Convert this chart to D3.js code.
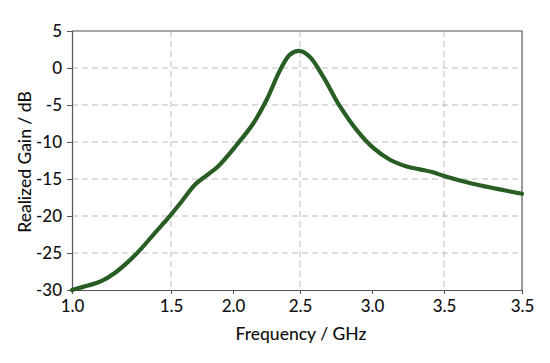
<!DOCTYPE html>
<html>
<head>
<meta charset="utf-8">
<script src="https://cdn.jsdelivr.net/npm/d3@7"></script>
<style>
  body { margin: 0; background: #fff; }
  svg { display: block; font-family: Lato, "Open Sans", sans-serif; }
</style>
</head>
<body>
<div id="chart"></div>
<script>
// frequency (GHz) and realized gain (dB)
const freq = [1.0, 1.081, 1.148, 1.216, 1.283, 1.35, 1.418, 1.485, 1.583, 1.691, 1.772, 1.879,
  2.027, 2.151, 2.251, 2.351, 2.425, 2.5, 2.569, 2.662, 2.778, 2.894, 3.009, 3.125, 3.241,
  3.333, 3.424, 3.5, 3.677, 3.833, 4.0];
const gain = [-30, -29.4, -28.8, -27.7, -26.2, -24.4, -22.3, -20.3, -18.1, -15.8, -14.7, -13.3,
  -10.4, -7.5, -4.3, -0.3, 1.8, 2.3, 1.5, -1.2, -5.2, -8.4, -10.8, -12.4, -13.3,
  -13.7, -14.1, -14.6, -15.6, -16.3, -17.0];

// x axis as printed (the last label repeats 3.5)
const xTickValues = [1.0, 1.5, 2.0, 2.5, 3.0, 3.5, 4.0];
const xTickLabels = ['1.0', '1.5', '2.0', '2.5', '3.0', '3.5', '3.5'];
const xGridValues = [1.5, 2.5, 3.5];
const yTickValues = [5, 0, -5, -10, -15, -20, -25, -30];
const yGridValues = [0, -5, -10, -15, -20, -25];

const width = 550;
const height = 363;
const plot = { left: 72, right: 522, top: 31, bottom: 290 };
const font = 'Lato, "Open Sans", sans-serif';

const svg = d3.select('#chart')
  .append('svg')
  .attr('width', width)
  .attr('height', height);

// the printed axis is not evenly spaced, so use a piecewise scale
const x = d3.scaleLinear()
  .domain(xTickValues)
  .range([plot.left, 171, 233, 300, 372, 444, plot.right]);

const y = d3.scaleLinear()
  .domain([-30, 5])
  .range([plot.bottom, plot.top]);

// grid
svg.append('g')
  .selectAll('line')
  .data(yGridValues)
  .enter().append('line')
  .attr('x1', plot.left)
  .attr('x2', plot.right)
  .attr('y1', d => y(d))
  .attr('y2', d => y(d))
  .attr('stroke', '#bbb')
  .attr('stroke-width', 1)
  .attr('stroke-dasharray', '6,4');

svg.append('g')
  .selectAll('line')
  .data(xGridValues)
  .enter().append('line')
  .attr('x1', d => x(d))
  .attr('x2', d => x(d))
  .attr('y1', plot.top)
  .attr('y2', plot.bottom)
  .attr('stroke', '#bbb')
  .attr('stroke-width', 1)
  .attr('stroke-dasharray', '6,4');

// frame top / right
svg.append('path')
  .attr('d', `M${plot.left},${plot.top}H${plot.right}V${plot.bottom}`)
  .attr('fill', 'none')
  .attr('stroke', '#555')
  .attr('stroke-width', 1.2);

// axes
const xAxis = svg.append('g')
  .attr('transform', 'translate(0,' + plot.bottom + ')')
  .call(d3.axisBottom(x)
    .tickValues(xTickValues)
    .tickFormat((d, i) => xTickLabels[i])
    .tickSizeOuter(0)
    .tickSize(4)
    .tickPadding(6));

const yAxis = svg.append('g')
  .attr('transform', 'translate(' + plot.left + ',0)')
  .call(d3.axisLeft(y)
    .tickValues(yTickValues)
    .tickFormat(d => String(d))   // plain hyphen, like the original
    .tickSizeOuter(0)
    .tickSize(5)
    .tickPadding(5));

[xAxis, yAxis].forEach(a => {
  a.select('.domain').attr('stroke', '#555').attr('stroke-width', 1.2);
  a.selectAll('.tick line').attr('stroke', '#555');
  a.selectAll('.tick text')
    .attr('fill', '#111')
    .style('font-size', '17px')
    .style('font-weight', 500)
    .style('font-family', font);
});

// curve
const line = d3.line()
  .x((d, i) => x(freq[i]))
  .y(d => y(d))
  .curve(d3.curveCatmullRom.alpha(0.5));

svg.append('path')
  .datum(gain)
  .attr('fill', 'none')
  .attr('stroke', '#285e24')
  .attr('stroke-width', 4.2)
  .attr('stroke-linejoin', 'round')
  .attr('stroke-linecap', 'round')
  .attr('d', line);

// axis titles
svg.append('text')
  .attr('x', 301)
  .attr('y', 340)
  .attr('text-anchor', 'middle')
  .attr('fill', '#111')
  .style('font-size', '17.5px')
  .style('font-weight', 500)
  .text('Frequency / GHz');

svg.append('text')
  .attr('transform', 'translate(31,162) rotate(-90)')
  .attr('text-anchor', 'middle')
  .attr('fill', '#111')
  .style('font-size', '17.5px')
  .style('font-weight', 500)
  .text('Realized Gain / dB');
</script>
</body>
</html>
